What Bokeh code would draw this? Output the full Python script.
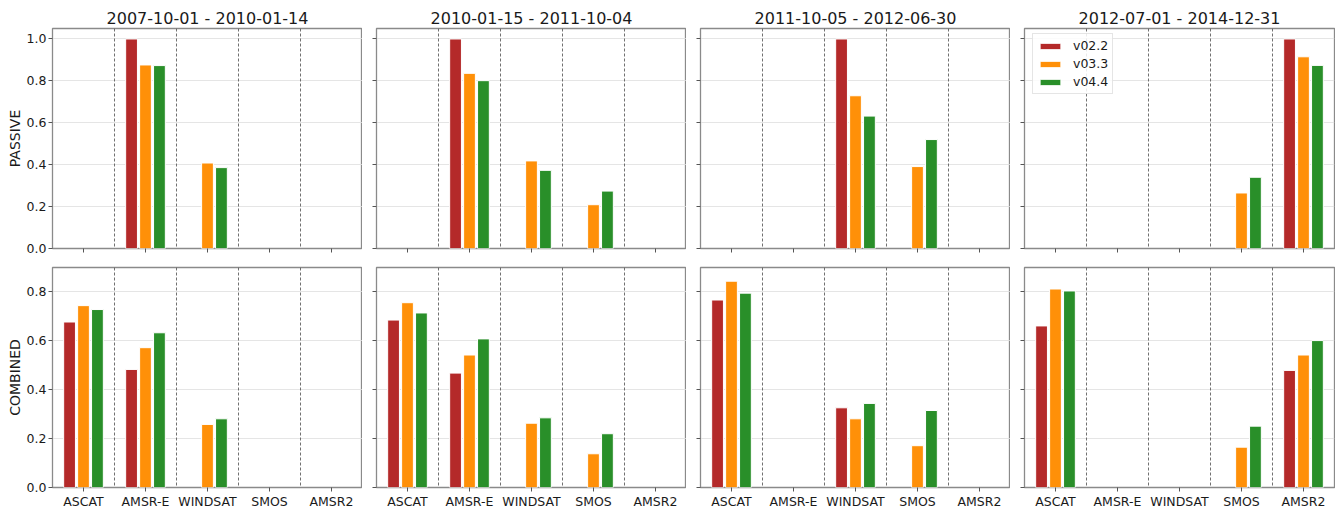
import math
from bokeh.plotting import figure
from bokeh.layouts import column, row
from bokeh.models import (Range1d, FixedTicker, PrintfTickFormatter, Span,
                          Legend, LegendItem)
from bokeh.embed import file_html
from bokeh.resources import INLINE

NaN = float("nan")

# ---------------- data ----------------
sensors = ["ASCAT", "AMSR-E", "WINDSAT", "SMOS", "AMSR2"]
periods = ["2007-10-01 - 2010-01-14", "2010-01-15 - 2011-10-04",
           "2011-10-05 - 2012-06-30", "2012-07-01 - 2014-12-31"]
versions = ["v02.2", "v03.3", "v04.4"]
version_colors = ["#B22222", "#FF8C00", "#228B22"]
row_names = ["PASSIVE", "COMBINED"]

# PASSIVE values: [period][version][sensor]
passive_p1_v022 = [NaN, 1.0, NaN, NaN, NaN]
passive_p1_v033 = [NaN, 0.876, 0.408, NaN, NaN]
passive_p1_v044 = [NaN, 0.873, 0.386, NaN, NaN]

passive_p2_v022 = [NaN, 1.0, NaN, NaN, NaN]
passive_p2_v033 = [NaN, 0.836, 0.418, 0.209, NaN]
passive_p2_v044 = [NaN, 0.801, 0.373, 0.274, NaN]

passive_p3_v022 = [NaN, NaN, 1.0, NaN, NaN]
passive_p3_v033 = [NaN, NaN, 0.729, 0.391, NaN]
passive_p3_v044 = [NaN, NaN, 0.632, 0.520, NaN]

passive_p4_v022 = [NaN, NaN, NaN, NaN, 1.0]
passive_p4_v033 = [NaN, NaN, NaN, 0.265, 0.915]
passive_p4_v044 = [NaN, NaN, NaN, 0.340, 0.874]

# COMBINED values
combined_p1_v022 = [0.677, 0.483, NaN, NaN, NaN]
combined_p1_v033 = [0.744, 0.572, 0.258, NaN, NaN]
combined_p1_v044 = [0.728, 0.633, 0.281, NaN, NaN]

combined_p2_v022 = [0.685, 0.468, NaN, NaN, NaN]
combined_p2_v033 = [0.756, 0.542, 0.263, 0.138, NaN]
combined_p2_v044 = [0.714, 0.608, 0.285, 0.220, NaN]

combined_p3_v022 = [0.767, NaN, 0.326, NaN, NaN]
combined_p3_v033 = [0.844, NaN, 0.281, 0.171, NaN]
combined_p3_v044 = [0.795, NaN, 0.344, 0.315, NaN]

combined_p4_v022 = [0.661, NaN, NaN, NaN, 0.479]
combined_p4_v033 = [0.812, NaN, NaN, 0.165, 0.542]
combined_p4_v044 = [0.804, NaN, NaN, 0.251, 0.601]

passive_ticks = [0.0, 0.2, 0.4, 0.6, 0.8, 1.0]
combined_ticks = [0.0, 0.2, 0.4, 0.6, 0.8]

data = {
    "PASSIVE": [
        [passive_p1_v022, passive_p1_v033, passive_p1_v044],
        [passive_p2_v022, passive_p2_v033, passive_p2_v044],
        [passive_p3_v022, passive_p3_v033, passive_p3_v044],
        [passive_p4_v022, passive_p4_v033, passive_p4_v044],
    ],
    "COMBINED": [
        [combined_p1_v022, combined_p1_v033, combined_p1_v044],
        [combined_p2_v022, combined_p2_v033, combined_p2_v044],
        [combined_p3_v022, combined_p3_v033, combined_p3_v044],
        [combined_p4_v022, combined_p4_v033, combined_p4_v044],
    ],
}

# ---------------- styling ----------------
FONT = "DejaVu Sans"
TEXT_COLOR = "#1a1a1a"
FRAME_W = 310
FRAME_H = 220
BAR_W = 0.19
OFFSETS = [-0.225, 0.0, 0.225]

figs = [[], []]

for r, rname in enumerate(row_names):
    ymax = 1.05 if r == 0 else 0.9
    ticks = passive_ticks if r == 0 else combined_ticks
    for c, period in enumerate(periods):
        p = figure(
            frame_width=FRAME_W, frame_height=FRAME_H,
            x_range=Range1d(-0.5, len(sensors) - 0.5),
            y_range=Range1d(0, ymax),
            output_backend="svg", toolbar_location=None,
            title=period if r == 0 else None,
            min_border_left=52 if c == 0 else 14,
            min_border_right=1 if c == 3 else 0,
            min_border_top=28 if r == 0 else 9,
            min_border_bottom=10 if r == 0 else 20,
        )
        p.background_fill_color = "white"
        p.border_fill_color = "white"
        p.outline_line_color = "#8a8a8a"
        p.outline_line_width = 1.3

        if r == 0:
            p.title.text_font = FONT
            p.title.text_font_size = "16px"
            p.title.text_font_style = "normal"
            p.title.text_color = TEXT_COLOR
            p.title.align = "center"
            p.title.standoff = 1
            p.title.offset = 0

        # grid
        p.xgrid.grid_line_color = None
        p.ygrid.grid_line_color = "#dedede"
        p.ygrid.grid_line_width = 0.8
        p.ygrid.ticker = FixedTicker(ticks=ticks)

        # axes
        for ax in (p.xaxis[0], p.yaxis[0]):
            ax.axis_line_color = None
            ax.major_tick_line_color = "#555555"
            ax.major_tick_line_width = 1
            ax.major_tick_out = 4
            ax.major_tick_in = 0
            ax.minor_tick_line_color = None
            ax.major_label_text_font = FONT
            ax.major_label_text_font_size = "12.5px"
            ax.major_label_text_color = TEXT_COLOR
            ax.major_label_standoff = 2

        p.xaxis.ticker = FixedTicker(ticks=list(range(len(sensors))))
        p.xaxis.major_label_overrides = {i: s for i, s in enumerate(sensors)}
        p.yaxis.ticker = FixedTicker(ticks=ticks)
        p.yaxis.formatter = PrintfTickFormatter(format="%.1f")
        p.yaxis.major_label_standoff = 2

        if r == 0:
            p.xaxis.major_label_text_font_size = "0px"
            p.xaxis.major_label_text_color = None
            p.xaxis.major_label_standoff = 0
        if c != 0:
            p.yaxis.major_label_text_font_size = "0px"
            p.yaxis.major_label_text_color = None
            p.yaxis.major_label_standoff = 0
        else:
            p.yaxis.axis_label = rname
            p.yaxis.axis_label_text_font = FONT
            p.yaxis.axis_label_text_font_size = "14px"
            p.yaxis.axis_label_text_font_style = "normal"
            p.yaxis.axis_label_text_color = TEXT_COLOR
            p.yaxis.axis_label_standoff = 1

        # separators between sensors
        for i in range(len(sensors) - 1):
            p.add_layout(Span(location=i + 0.5, dimension="height",
                              line_color="#444444", line_width=0.9,
                              line_dash="3 2", line_alpha=0.85))

        # bars
        rends = []
        for v, (vname, col) in enumerate(zip(versions, version_colors)):
            vals = data[rname][c][v]
            xs = [i + OFFSETS[v] for i in range(len(sensors))]
            rr = p.vbar(x=xs, top=vals, bottom=0, width=BAR_W,
                        fill_color=col, fill_alpha=0.97,
                        line_color="white", line_width=1)
            rends.append(rr)

        if r == 0 and c == 3:
            legend = Legend(
                items=[LegendItem(label=vn, renderers=[rr])
                       for vn, rr in zip(versions, rends)],
                location=(8, 154),
                label_text_font=FONT, label_text_font_size="12.5px",
                label_text_color=TEXT_COLOR,
                glyph_width=26, glyph_height=8, label_height=15,
                label_standoff=10, spacing=3, padding=4, margin=0,
                border_line_color="#cccccc", border_line_width=1,
                background_fill_color="white", background_fill_alpha=0.85,
            )
            p.add_layout(legend)

        figs[r].append(p)

layout = column(row(*figs[0], spacing=0), row(*figs[1], spacing=0), spacing=0)

with open("out.html", "w") as f:
    f.write(file_html(layout, INLINE))
